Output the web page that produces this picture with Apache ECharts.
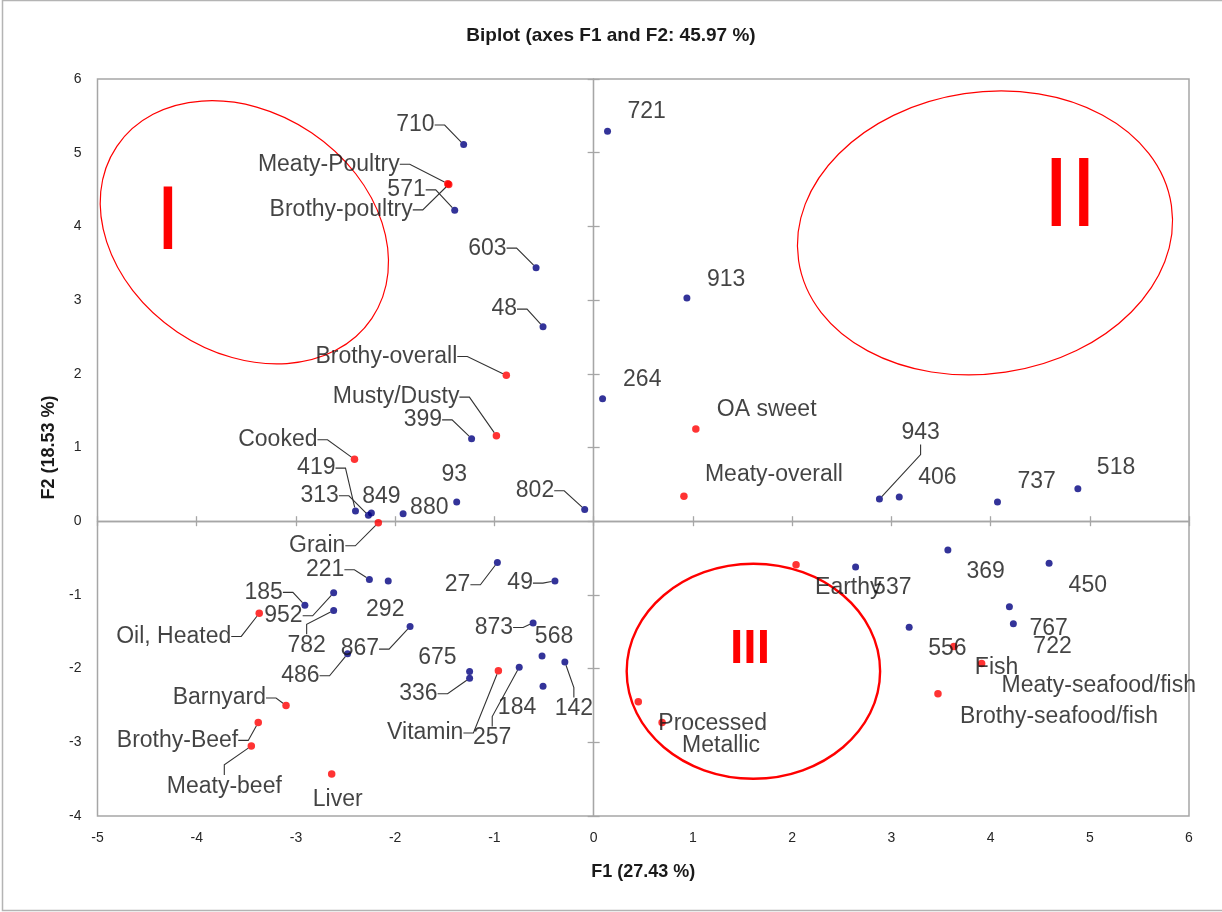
<!DOCTYPE html>
<html>
<head>
<meta charset="utf-8">
<title>Biplot</title>
<script src="https://cdn.jsdelivr.net/npm/echarts@6/dist/echarts.min.js"></script>
<style>
  html, body { margin: 0; padding: 0; background: #fff; }
  #chart { width: 1222px; height: 912px; }
</style>
</head>
<body>
<div id="chart"></div>
<script>
    // panel samples (blue)
    const sampleNames = ['710', '571', '603', '721', '913', '48', '399', '264', '419', '313',
        '849', '880', '93', '802', '943', '406', '737', '518', '221', '292',
        '27', '49', '185', '952', '782', '867', '486', '873', '568', '142',
        '184', '257', '675', '336', '537', '369', '450', '767', '722', '556'];
    const sampleF1 = [-1.31, -1.40, -0.58, 0.14, 0.94, -0.51, -1.23, 0.09, -2.40, -2.27,
        -2.24, -1.92, -1.38, -0.09, 2.88, 3.08, 4.07, 4.88, -2.26, -2.07,
        -0.97, -0.39, -2.91, -2.62, -2.62, -1.85, -2.48, -0.61, -0.52, -0.29,
        -0.51, -0.75, -1.25, -1.25, 2.64, 3.57, 4.59, 4.19, 4.23, 3.18];
    const sampleF2 = [5.11, 4.22, 3.44, 5.29, 3.03, 2.64, 1.12, 1.66, 0.14, 0.08,
        0.11, 0.10, 0.26, 0.16, 0.30, 0.33, 0.26, 0.44, -0.79, -0.81,
        -0.56, -0.81, -1.14, -0.97, -1.21, -1.43, -1.80, -1.38, -1.83, -1.91,
        -2.24, -1.98, -2.04, -2.13, -0.62, -0.39, -0.57, -1.16, -1.39, -1.44];

    // sensory attributes (red)
    const attrNames = ['Meaty-Poultry', 'Brothy-poultry', 'Brothy-overall', 'Musty/Dusty', 'Cooked',
        'OA sweet', 'Meaty-overall', 'Grain', 'Oil, Heated', 'Barnyard',
        'Brothy-Beef', 'Meaty-beef', 'Liver', 'Vitamin', 'Earthy',
        'Fish', 'Meaty-seafood/fish', 'Brothy-seafood/fish', 'Processed', 'Metallic'];
    const attrF1 = [-1.47, -1.46, -0.88, -0.98, -2.41, 1.03, 0.91, -2.17, -3.37, -3.10,
        -3.38, -3.45, -2.64, -0.96, 2.04, 3.63, 3.91, 3.47, 0.45, 0.69];
    const attrF2 = [4.58, 4.57, 1.98, 1.16, 0.84, 1.25, 0.34, -0.02, -1.25, -2.50,
        -2.73, -3.05, -3.43, -2.03, -0.59, -1.70, -1.93, -2.34, -2.45, -2.73];

    const xTicks = [-5, -4, -3, -2, -1, 0, 1, 2, 3, 4, 5, 6];
    const yTicks = [-4, -3, -2, -1, 0, 1, 2, 3, 4, 5, 6];

    // label placement: [x offset px, y offset px, anchor of x offset (l = left edge, r = right edge, c = centre)]
    const labelPlace = {
        '710': [-29, -19.6, 'r'], '571': [-29, -20.3, 'r'], '603': [-29.5, -19.5, 'r'],
        '721': [20, -19.7, 'l'], '913': [20, -18, 'l'], '48': [-26, -17.5, 'r'],
        '399': [-29.5, -18.8, 'r'], '264': [20.5, -19, 'l'], '419': [-20, -42.8, 'r'],
        '313': [-29.5, -19.5, 'r'], '849': [10, -16.6, 'c'], '880': [7, -6.3, 'l'],
        '93': [-2.5, -27, 'c'], '802': [-30.5, -18.6, 'r'], '943': [22, -66, 'l'],
        '406': [19, -18.8, 'l'], '737': [20, -20.5, 'l'], '518': [19, -20.7, 'l'],
        '221': [-25, -9.6, 'r'], '292': [-3, 28.9, 'c'], '27': [-27, 22.3, 'r'],
        '49': [-22, 2.2, 'r'], '185': [-22, -12.8, 'r'], '952': [-31, 23.1, 'r'],
        '782': [-27, 35.4, 'c'], '867': [-31, 22.5, 'r'], '486': [-28, 21.9, 'r'],
        '873': [-20, 4.6, 'r'], '568': [12, -19.6, 'c'], '142': [9, 47.1, 'c'],
        '184': [-26, 21.7, 'c'], '257': [-27, 70.9, 'c'], '675': [-13, -13.5, 'r'],
        '336': [-32, 15.6, 'r'], '537': [17.5, 21.2, 'l'], '369': [18.5, 21.5, 'l'],
        '450': [19.5, 22.6, 'l'], '767': [20, 22.4, 'l'], '722': [20, 22.8, 'l'],
        '556': [19, 21.7, 'l'],
        'Meaty-Poultry': [-48, -19.4, 'r'], 'Brothy-poultry': [-36, 25.5, 'r'],
        'Brothy-overall': [-49, -18.7, 'r'], 'Musty/Dusty': [-37, -38.6, 'r'],
        'Cooked': [-37, -19.5, 'r'], 'OA sweet': [21, -19.2, 'l'],
        'Meaty-overall': [21, -21.3, 'l'], 'Grain': [-33, 23.1, 'r'],
        'Oil, Heated': [-28, 23.1, 'r'], 'Barnyard': [-20, -7.4, 'r'],
        'Brothy-Beef': [-20, 18, 'r'], 'Meaty-beef': [-27, 40.4, 'c'],
        'Liver': [6, 25.7, 'c'], 'Vitamin': [-35, 62.2, 'r'],
        'Earthy': [19, 23.4, 'l'], 'Fish': [21, 21.6, 'l'],
        'Meaty-seafood/fish': [20, 22.3, 'l'], 'Brothy-seafood/fish': [22, 23.4, 'l'],
        'Processed': [20, 22.3, 'l'], 'Metallic': [20, 23.3, 'l']
    };
    // labels joined to their point by a leader line
    const leaders = ['710', '571', '603', '48', '399', '419', '313', '802', '943', '221',
        '27', '49', '185', '952', '782', '867', '486', '873', '142', '257', '336',
        'Meaty-Poultry', 'Brothy-poultry', 'Brothy-overall', 'Musty/Dusty', 'Cooked',
        'Grain', 'Oil, Heated', 'Barnyard', 'Brothy-Beef', 'Meaty-beef', 'Vitamin'];

    // hand drawn groups: centre in F1/F2 units, radii in axis units, rotation in degrees
    const groups = [
        { mark: 'I', center: [-3.52, 3.92], r: [1.55, 1.63], rot: -34, lw: 1.2,
          at: [-4.29, 4.03], font: 91, weight: 'normal' },
        { mark: 'II', center: [3.944, 3.911], r: [1.899, 1.91], rot: 8.4, lw: 1.2,
          at: [4.80, 4.38], font: 99, weight: 'normal' },
        { mark: 'III', center: [1.61, -2.036], r: [1.277, 1.458], rot: 0, lw: 2.4,
          at: [1.576, -1.75], font: 48, weight: 'bold' }
    ];

    const FONT = "'Liberation Sans', Arial, sans-serif";

    function points (names, xs, ys) {
        return names.map((n, i) => ({
            name: n,
            value: [xs[i], ys[i]],
            labelLine: { show: leaders.indexOf(n) >= 0 }
        }))
    }

    function placeLabel (params) {
        const p = labelPlace[params.text];
        if (!p) return {};
        const r = params.rect, lr = params.labelRect;
        const cx = r.x + r.width / 2, cy = r.y + r.height / 2;
        let tx = cx + p[0];
        if (p[2] === 'l') tx += lr.width / 2;
        if (p[2] === 'r') tx -= lr.width / 2;
        const ty = cy + p[1];
        return {
            dx: tx - (lr.x + lr.width / 2),
            dy: ty - (lr.y + lr.height / 2)
        }
    }

    const gridLine = '#a6a6a6';
    const pointLabel = {
        show: true,
        position: 'inside',
        formatter: '{b}',
        fontFamily: FONT,
        fontSize: 23,
        color: '#141414'
    };
    const leaderLine = {
        show: true,
        length2: 10,
        lineStyle: { color: '#333', width: 1.1 }
    };

    function zeroAxis (inside, len) {
        return {
            type: 'value', min: -5, max: 6, interval: 1,
            axisLine: { onZero: true, lineStyle: { color: gridLine, width: 1.3 } },
            axisTick: { show: true, inside: inside, length: len, lineStyle: { color: gridLine, width: 1.3 } },
            axisLabel: { show: false },
            splitLine: { show: false }
        }
    }

    const xZero = zeroAxis(false, 5);
    const xZeroIn = zeroAxis(true, 5);
    const yZero = Object.assign(zeroAxis(false, 6), { min: -4, max: 6 });
    const yZeroIn = Object.assign(zeroAxis(true, 6), { min: -4, max: 6 });

    const option = {
        animation: false,
        backgroundColor: '#fff',
        title: {
            text: 'Biplot (axes F1 and F2: 45.97 %)',
            left: 'center',
            top: 21,
            textStyle: { fontFamily: FONT, fontSize: 19, fontWeight: 'bold', color: '#1a1a1a' }
        },
        graphic: [{
            type: 'rect',
            shape: { x: 2.5, y: 0.5, width: 1240, height: 910 },
            style: { fill: 'none', stroke: '#b4b4b4', lineWidth: 1.5 },
            silent: true
        }],
        grid: {
            left: 97.5, right: 33, top: 79, bottom: 96,
            show: true,
            borderColor: gridLine,
            borderWidth: 1.5,
            outerBoundsMode: 'none'
        },
        xAxis: [{
            type: 'value',
            min: xTicks[0],
            max: xTicks[xTicks.length - 1],
            interval: 1,
            position: 'bottom',
            name: 'F1 (27.43 %)',
            nameLocation: 'middle',
            nameGap: 47,
            nameTextStyle: { fontFamily: FONT, fontSize: 18, fontWeight: 'bold', color: '#1a1a1a' },
            axisLine: { show: false, onZero: false },
            axisTick: { show: false },
            splitLine: { show: false },
            axisLabel: { fontFamily: FONT, fontSize: 14, color: '#262626', margin: 15 }
        }, xZero, xZeroIn],
        yAxis: [{
            type: 'value',
            min: yTicks[0],
            max: yTicks[yTicks.length - 1],
            interval: 1,
            position: 'left',
            name: 'F2 (18.53 %)',
            nameLocation: 'middle',
            nameGap: 37,
            nameTextStyle: { fontFamily: FONT, fontSize: 18, fontWeight: 'bold', color: '#1a1a1a' },
            axisLine: { show: false, onZero: false },
            axisTick: { show: false },
            splitLine: { show: false },
            axisLabel: { fontFamily: FONT, fontSize: 14, color: '#262626', margin: 16 }
        }, yZero, yZeroIn],
        series: [
            {
                name: 'groups',
                type: 'custom',
                coordinateSystem: 'cartesian2d',
                silent: true,
                z: 1,
                data: groups.map(g => g.center),
                renderItem: function (params, api) {
                    const g = groups[params.dataIndex];
                    const c = api.coord(g.center);
                    const s = api.size(g.r);
                    const t = api.coord(g.at);
                    return {
                        type: 'group',
                        children: [{
                            type: 'ellipse',
                            x: c[0], y: c[1],
                            rotation: g.rot * Math.PI / 180,
                            shape: { cx: 0, cy: 0, rx: s[0], ry: s[1] },
                            style: { fill: 'none', stroke: '#ff0000', lineWidth: g.lw }
                        }, {
                            type: 'text',
                            x: t[0], y: t[1],
                            style: {
                                text: g.mark,
                                fill: '#ff0000',
                                fontFamily: FONT,
                                fontSize: g.font,
                                fontWeight: g.weight,
                                align: 'center',
                                verticalAlign: 'middle'
                            }
                        }]
                    }
                }
            },
            {
                name: 'Samples',
                type: 'scatter',
                z: 3,
                symbolSize: 7,
                itemStyle: { color: '#000080' },
                data: points(sampleNames, sampleF1, sampleF2),
                label: pointLabel,
                labelLine: leaderLine,
                labelLayout: placeLabel,
                emphasis: { disabled: true }
            },
            {
                name: 'Attributes',
                type: 'scatter',
                z: 3,
                symbolSize: 7.5,
                itemStyle: { color: '#ff0000' },
                data: points(attrNames, attrF1, attrF2),
                label: pointLabel,
                labelLine: leaderLine,
                labelLayout: placeLabel,
                emphasis: { disabled: true }
            }
        ]
    };

    const chart = echarts.init(document.getElementById('chart'), null, { renderer: 'canvas' });
    chart.setOption(option);
    window.addEventListener('resize', () => chart.resize());
</script>
</body>
</html>
